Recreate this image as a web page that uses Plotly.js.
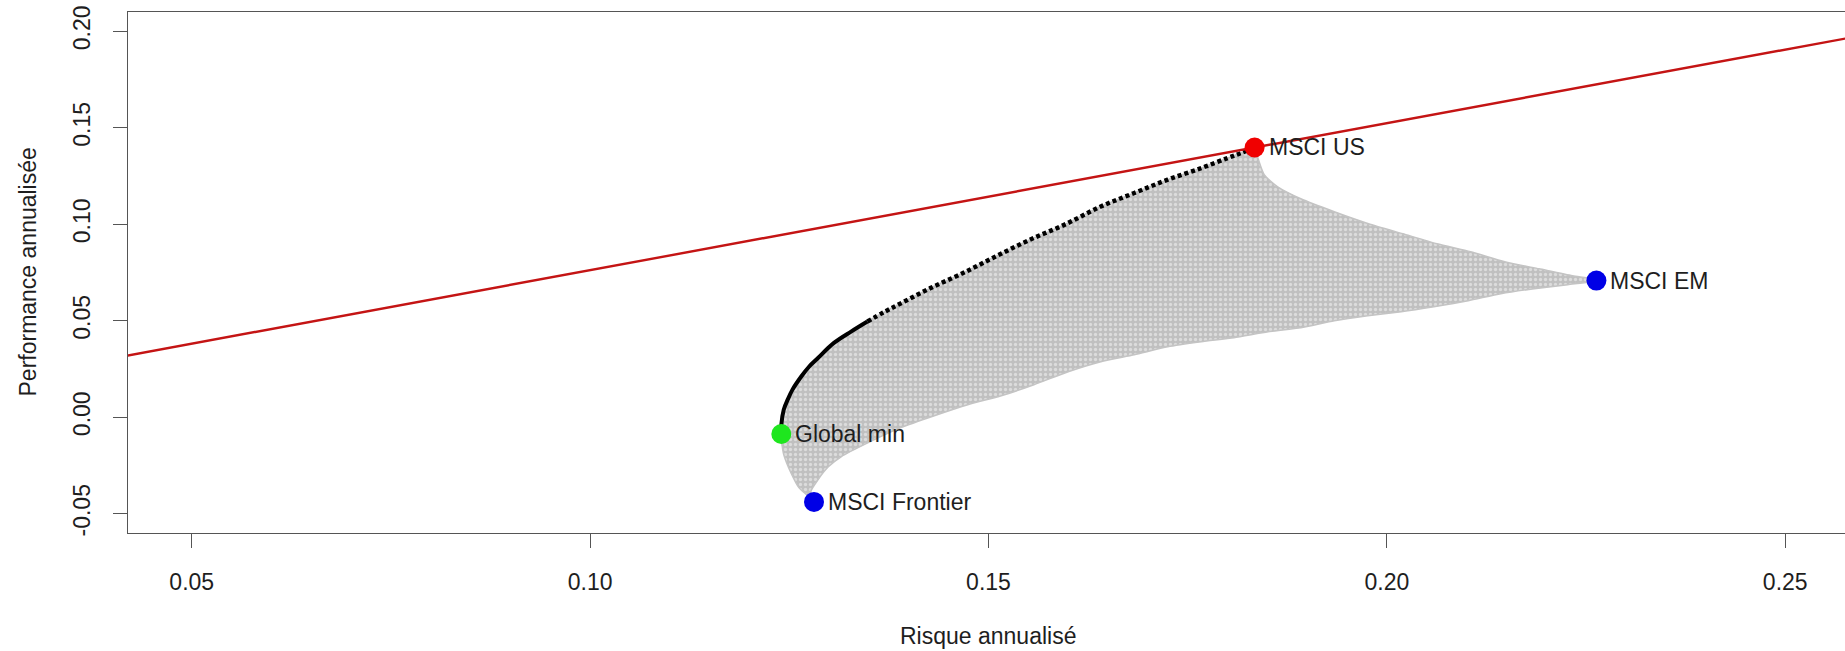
<!DOCTYPE html>
<html><head><meta charset="utf-8">
<script src="https://cdn.plot.ly/plotly-3.0.1.min.js"></script>
<style>html,body{margin:0;padding:0;background:#fff;overflow:hidden}</style>
</head><body><div id="chart" style="width:1845px;height:651px"></div>
<script>
// Efficient frontier (risk, return), from Global min to MSCI US
const frontierRisk   = [0.1240, 0.1240, 0.1243, 0.1248, 0.1254, 0.1265, 0.1275, 0.1286, 0.1306, 0.1328, 0.1348, 0.1369, 0.1389, 0.1427, 0.1468, 0.1509, 0.1552, 0.1595, 0.1641, 0.1683, 0.1725, 0.1767, 0.1800, 0.1817, 0.1834];
const frontierReturn = [-0.0087, -0.0039, 0.0039, 0.0091, 0.0143, 0.0211, 0.0263, 0.0307, 0.0385, 0.0445, 0.0496, 0.0545, 0.0588, 0.0669, 0.0747, 0.0833, 0.0920, 0.0997, 0.1092, 0.1162, 0.1231, 0.1291, 0.1343, 0.1369, 0.1398];

// Outline of the cloud of simulated portfolios (after the frontier): MSCI US -> MSCI EM -> MSCI Frontier -> Global min
const cloudEdgeRisk   = [0.1838, 0.1846, 0.1863, 0.1892, 0.1934, 0.1977, 0.2020, 0.2063, 0.2105, 0.2148, 0.2191, 0.2233, 0.2256, 0.2263,
                         0.2227, 0.2185, 0.2143, 0.2102, 0.2059, 0.2018, 0.1976, 0.1934, 0.1892, 0.1851, 0.1808, 0.1767, 0.1725, 0.1683, 0.1641, 0.1600, 0.1557, 0.1516, 0.1474, 0.1432, 0.1390, 0.1349, 0.1315, 0.1299, 0.1286, 0.1277, 0.1281,
                         0.1272, 0.1262, 0.1252, 0.1243, 0.1240];
const cloudEdgeReturn = [0.1345, 0.1257, 0.1194, 0.1132, 0.1065, 0.1003, 0.0951, 0.0899, 0.0858, 0.0806, 0.0769, 0.0733, 0.0718, 0.0707,
                         0.0687, 0.0666, 0.0640, 0.0604, 0.0573, 0.0547, 0.0526, 0.0500, 0.0464, 0.0443, 0.0412, 0.0391, 0.0365, 0.0324, 0.0288, 0.0236, 0.0168, 0.0111, 0.0065, 0.0008, -0.0054, -0.0132, -0.0205, -0.0257, -0.0324, -0.0386, -0.0428,
                         -0.0402, -0.0365, -0.0288, -0.0194, -0.0117];

// Assets and portfolios
const assetNames  = ["MSCI US", "MSCI EM", "MSCI Frontier", "Global min"];
const assetRisk   = [0.1834, 0.2263, 0.1281, 0.1240];
const assetReturn = [0.1398, 0.0708, -0.0439, -0.0087];
const assetColors = ["#f00000", "#0000e6", "#0000e6", "#1ee61e"];

// Tangent line (y = a + b * x)
const lineIntercept = 0.0;
const lineSlope = 0.762;

// Axes
const xRange = [0.042, 0.2575];
const yRange = [-0.06, 0.21];
const xTicks = [0.05, 0.10, 0.15, 0.20, 0.25];
const xTickText = ["0.05", "0.10", "0.15", "0.20", "0.25"];
const yTicks = [-0.05, 0.00, 0.05, 0.10, 0.15, 0.20];
const yTickText = ["-0.05", "0.00", "0.05", "0.10", "0.15", "0.20"];

const FONT = "Liberation Sans, Arial, sans-serif";
const solidCount = 11;

const traces = [
  { // cloud of portfolios
    x: frontierRisk.concat(cloudEdgeRisk),
    y: frontierReturn.concat(cloudEdgeReturn),
    mode: "lines", fill: "toself", fillcolor: "#c2c2c2",
    fillpattern: {shape: ".", bgcolor: "#c0c0c0", fgcolor: "#dcdcdc", size: 5, solidity: 0.35},
    line: {color: "#c4c4c4", width: 1.5, shape: "spline", smoothing: 0.6},
    hoverinfo: "skip", showlegend: false
  },
  { // frontier, dense part
    x: frontierRisk.slice(0, solidCount), y: frontierReturn.slice(0, solidCount),
    mode: "lines", line: {color: "#000", width: 4, shape: "spline"}, showlegend: false
  },
  { // frontier, dotted part
    x: frontierRisk.slice(solidCount - 1), y: frontierReturn.slice(solidCount - 1),
    mode: "lines", line: {color: "#000", width: 4.5, dash: "4px,3px", shape: "spline"}, showlegend: false
  },
  { // tangent line
    x: [0, 0.4], y: [lineIntercept, lineIntercept + lineSlope * 0.4],
    mode: "lines", line: {color: "#c41414", width: 2.4}, showlegend: false
  },
  { // assets
    x: assetRisk, y: assetReturn, mode: "markers",
    marker: {color: assetColors, size: 20}, showlegend: false
  }
];

const annotations = assetNames.map((n, i) => ({
  text: n, x: assetRisk[i], y: assetReturn[i], xref: "x", yref: "y",
  xanchor: "left", yanchor: "middle", xshift: 12, showarrow: false,
  font: {family: FONT, size: 23, color: "#1e1e1e"}
}));
annotations.push({
  text: "Risque annualisé", xref: "x", x: (xTicks[0] + xTicks[xTicks.length - 1]) / 2,
  yref: "paper", y: 0, yanchor: "middle", yshift: -103, showarrow: false,
  font: {family: FONT, size: 23, color: "#1e1e1e"}
});
annotations.push({
  text: "Performance annualisée", xref: "paper", x: 0, xanchor: "center", xshift: -101,
  yref: "paper", y: 0.5, yanchor: "middle", textangle: -90, showarrow: false,
  font: {family: FONT, size: 23, color: "#1e1e1e"}
});

const axisCommon = {
  ticks: "outside", ticklen: 14, tickwidth: 1, tickcolor: "#555",
  showline: true, linecolor: "#555", linewidth: 1,
  showgrid: false, zeroline: false, tickmode: "array",
  tickfont: {family: FONT, size: 23, color: "#1e1e1e"}
};

const layout = {
  width: 1845, height: 651,
  margin: {l: 128, r: 0, t: 12, b: 118},
  paper_bgcolor: "#fff", plot_bgcolor: "#fff",
  xaxis: Object.assign({}, axisCommon, {range: xRange, tickvals: xTicks, ticktext: xTickText, mirror: true, ticklabelstandoff: 14}),
  yaxis: Object.assign({}, axisCommon, {range: yRange, tickvals: yTicks, ticktext: yTickText, mirror: false, tickangle: -90, ticklabelstandoff: 14}),
  annotations: annotations,
  showlegend: false
};

Plotly.newPlot("chart", traces, layout, {displayModeBar: false, staticPlot: true});
</script>
</body></html>
